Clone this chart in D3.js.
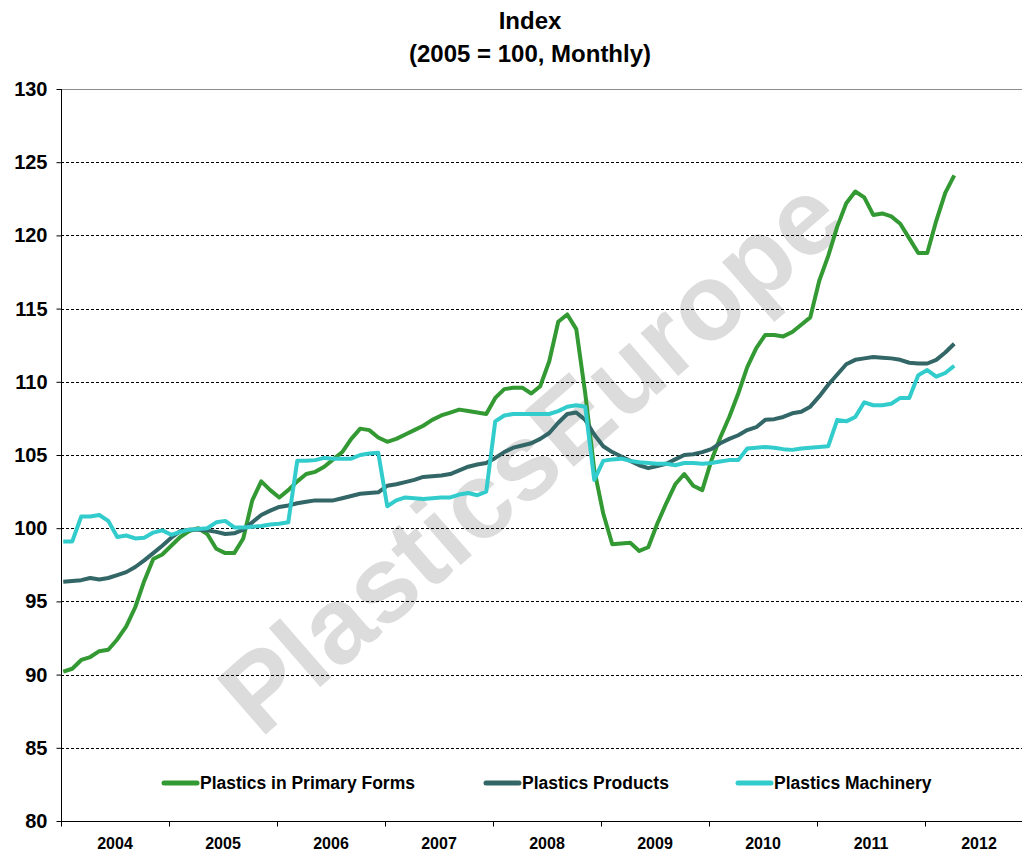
<!DOCTYPE html>
<html>
<head>
<meta charset="utf-8">
<script src="https://cdn.jsdelivr.net/npm/d3@7"></script>
<style>
  body { margin: 0; background: #fff; }
  svg text { font-family: "Liberation Sans", Arial, sans-serif; font-weight: bold; }
</style>
</head>
<body>
<div id="chart"></div>
<script>
// monthly index values, Jan 2004 .. Apr 2012 (2005 = 100)
const startYear = 2004;
const years = [2004, 2005, 2006, 2007, 2008, 2009, 2010, 2011, 2012];
const yTicks = [80, 85, 90, 95, 100, 105, 110, 115, 120, 125, 130];

const primaryForms = [
  90.2, 90.4, 91.0, 91.2, 91.6, 91.7, 92.4, 93.3, 94.6, 96.4, 97.9, 98.2,
  98.8, 99.4, 99.8, 100.0, 99.6, 98.6, 98.3, 98.3, 99.3, 101.9, 103.2, 102.6,
  102.1, 102.6, 103.2, 103.7, 103.85, 104.2, 104.7, 105.2, 106.1, 106.8, 106.7, 106.2,
  105.9, 106.1, 106.4, 106.7, 107.0, 107.4, 107.7, 107.9, 108.1, 108.0, 107.9, 107.8,
  108.9, 109.5, 109.6, 109.6, 109.2, 109.7, 111.4, 114.1, 114.6, 113.6, 109.2, 104.0,
  101.0, 98.9, 98.95, 99.0, 98.45, 98.7, 100.3, 101.7, 103.0, 103.7, 102.9, 102.6,
  104.6, 106.2, 107.6, 109.2, 111.0, 112.3, 113.2, 113.2, 113.1, 113.4, 113.9, 114.4,
  116.9, 118.6, 120.6, 122.2, 123.0, 122.6, 121.4, 121.5, 121.3, 120.8, 119.8, 118.8,
  118.8, 121.0, 122.9, 124.1
];

const products = [
  96.35, 96.4, 96.45, 96.6, 96.5, 96.6, 96.8, 97.0, 97.35, 97.8, 98.3, 98.8,
  99.35, 99.8, 99.9, 99.9, 99.85, 99.75, 99.6, 99.65, 99.9, 100.4, 100.9, 101.2,
  101.45, 101.55, 101.7, 101.8, 101.9, 101.9, 101.9, 102.05, 102.2, 102.35, 102.4, 102.45,
  102.9, 103.0, 103.15, 103.3, 103.5, 103.55, 103.6, 103.7, 103.95, 104.2, 104.35, 104.45,
  104.8, 105.2, 105.5, 105.65, 105.8, 106.1, 106.5, 107.2, 107.8, 107.9, 107.4, 106.4,
  105.6, 105.2, 104.9, 104.6, 104.3, 104.1, 104.25, 104.4, 104.7, 105.0, 105.05, 105.2,
  105.4, 105.8, 106.1, 106.35, 106.7, 106.9, 107.4, 107.45, 107.6, 107.85, 107.95, 108.3,
  109.0, 109.8, 110.5, 111.2, 111.5, 111.6, 111.7, 111.65, 111.6, 111.5, 111.3, 111.25,
  111.25, 111.5, 112.0, 112.6
];

const machinery = [
  99.1, 99.1, 100.8, 100.8, 100.9, 100.5, 99.4, 99.5, 99.3, 99.35, 99.7, 99.85,
  99.55, 99.75, 99.9, 99.95, 100.0, 100.4, 100.5, 100.05, 100.05, 100.1, 100.15, 100.25,
  100.3, 100.4, 104.6, 104.6, 104.65, 104.8, 104.75, 104.75, 104.75, 105.0, 105.1, 105.15,
  101.5, 101.9, 102.1, 102.05, 102.0, 102.05, 102.1, 102.1, 102.3, 102.4, 102.25, 102.5,
  107.3, 107.7, 107.8, 107.8, 107.8, 107.8, 107.8, 108.0, 108.3, 108.4, 108.3, 103.3,
  104.6, 104.7, 104.75, 104.6, 104.5, 104.45, 104.4, 104.4, 104.3, 104.45, 104.45, 104.4,
  104.45, 104.55, 104.65, 104.65, 105.45, 105.5, 105.55, 105.5, 105.4, 105.35, 105.45, 105.5,
  105.55, 105.6, 107.4, 107.3, 107.6, 108.6, 108.4, 108.4, 108.5, 108.9, 108.9, 110.45,
  110.8, 110.35, 110.6, 111.1
];

const seriesNames = ["Plastics in Primary Forms", "Plastics Products", "Plastics Machinery"];
const seriesColors = ["#339933", "#336666", "#33CCCC"];

const width = 1022, height = 852;
const plotLeft = 61, plotTop = 89, plotBottom = 821;
const yearWidth = 108;

const svg = d3.select("#chart").append("svg")
  .attr("width", width)
  .attr("height", height);

const x = d3.scaleLinear()
  .domain([startYear, startYear + years.length])
  .range([plotLeft, plotLeft + yearWidth * years.length]);

const y = d3.scaleLinear().domain([80, 130]).range([plotBottom, plotTop]);

// month i plotted slightly inside its month slot
const monthX = i => x(startYear + (i + 0.25) / 12);

// watermark
svg.append("text")
  .attr("transform", "translate(530,455) rotate(-41)")
  .attr("text-anchor", "middle")
  .attr("dominant-baseline", "central")
  .style("font-size", "108px")
  .style("fill", "#dcdcdc")
  .text("PlasticsEurope");

// titles
svg.append("text")
  .attr("x", 530).attr("y", 29)
  .attr("text-anchor", "middle")
  .style("font-size", "24px")
  .text("Index");
svg.append("text")
  .attr("x", 530).attr("y", 62)
  .attr("text-anchor", "middle")
  .style("font-size", "24px")
  .text("(2005 = 100, Monthly)");

// gridlines
svg.append("g")
  .selectAll("line")
  .data(yTicks.filter(d => d > 80))
  .join("line")
  .attr("x1", plotLeft).attr("x2", width)
  .attr("y1", d => Math.round(y(d)) + 0.5)
  .attr("y2", d => Math.round(y(d)) + 0.5)
  .attr("stroke", d => d === 130 ? "#8c8c8c" : "#000")
  .attr("stroke-width", 1)
  .attr("stroke-dasharray", d => d === 130 ? null : "3,2");

// y axis
const yAxis = svg.append("g")
  .attr("transform", `translate(${plotLeft + 0.5},0)`)
  .call(d3.axisLeft(y).tickValues(yTicks).tickSize(5).tickPadding(9));
yAxis.selectAll("text").style("font-size", "20px").attr("fill", "#000");
yAxis.selectAll("line, path").attr("stroke", "#000");
yAxis.select(".domain").attr("d", `M0,${plotTop}V${plotBottom}`);

// x axis
const xAxis = svg.append("g")
  .attr("transform", `translate(0,${plotBottom + 0.5})`)
  .call(d3.axisBottom(x).tickValues(years.concat([startYear + years.length])).tickSize(5).tickFormat(""));
xAxis.selectAll("line, path").attr("stroke", "#000");
xAxis.select(".domain").attr("d", `M${plotLeft},0H${width}`);

svg.append("g")
  .selectAll("text")
  .data(years)
  .join("text")
  .attr("x", d => x(d + 0.5))
  .attr("y", 849)
  .attr("text-anchor", "middle")
  .style("font-size", "16px")
  .text(d => d);

// series lines
const line = d3.line()
  .x((d, i) => monthX(i))
  .y(d => y(d));

[primaryForms, products, machinery].forEach((s, k) => {
  svg.append("path")
    .datum(s)
    .attr("fill", "none")
    .attr("stroke", seriesColors[k])
    .attr("stroke-width", 4)
    .attr("stroke-linejoin", "round")
    .attr("d", line);
});

// legend
const legendX = [164, 486, 738];
const legend = svg.append("g")
  .selectAll("g")
  .data(seriesNames)
  .join("g")
  .attr("transform", (d, i) => `translate(${legendX[i]},783)`);

legend.append("line")
  .attr("x1", 0).attr("x2", 33)
  .attr("stroke", (d, i) => seriesColors[i])
  .attr("stroke-width", 5)
  .attr("stroke-linecap", "round");

legend.append("text")
  .attr("x", 36).attr("y", 6)
  .style("font-size", "17.5px")
  .text(d => d);
</script>
</body>
</html>
